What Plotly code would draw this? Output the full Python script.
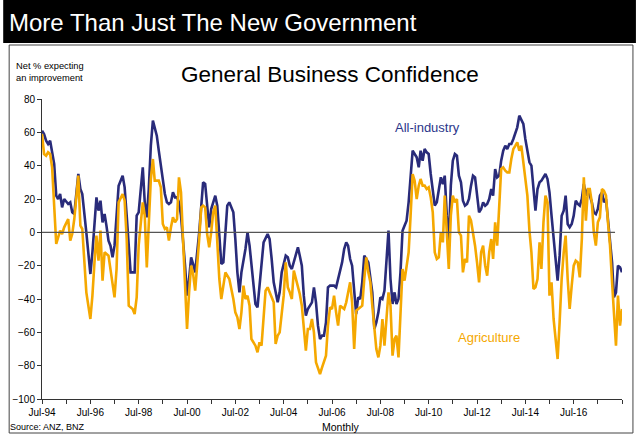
import pandas as pd
import plotly.graph_objects as go

# Months since Jul-1994 and net % values
all_month = [0,1,2,3,4,5,6,7,8,9,10,11,13,14,15,16,17,18,19,20,22,24,25,27,28,29,30,31,32,33,34,35,36,38,40,41,42,43,44,46,47,48,50,51,52,53,54,55,57,58,60,61,62,63,64,65,66,67,68,69,71,72,73,74,75,76,78,79,80,81,82,83,84,86,87,88,89,90,91,92,93,95,96,97,98,99,101,102,103,104,105,106,107,108,109,110,112,113,114,115,117,118,119,120,121,122,123,124,125,127,128,129,130,131,132,134,135,136,137,138,139,140,141,142,143,145,146,147,149,150,151,152,153,154,156,157,158,159,160,162,163,164,165,166,167,168,169,170,172,173,174,175,176,177,178,179,180,181,182,183,184,185,186,187,188,189,190,191,192,193,194,195,196,197,198,199,200,201,202,203,204,205,206,207,208,209,210,211,212,213,214,215,216,217,218,219,220,221,222,223,224,225,226,227,228,229,230,231,232,233,234,235,236,237,238,239,240,241,242,243,244,245,246,247,248,249,250,251,252,253,254,255,256,257,258,259,260,261,262,263,264,265,266,267,268,269,270,271,272,273,274,275,276,277,278,279,280,281,282,283,284,285,286,287,288]
all_value = [61,59,55,53,55,49,41,22,20,23,15,20,17,18,12,11,24,35,26,23,0,-25,-12,21,13,19,6,11,4,-5,-8,-15,-8,28,34,27,10,-12,-24,-24,10,12,39,18,9,26,52,67,58,49,30,23,18,17,18,24,21,21,18,10,-20,-38,-28,-15,-19,-24,0,18,30,29,16,3,14,22,16,-4,-19,-18,0,16,18,12,-4,-24,-36,-24,-10,0,-8,-20,-33,-43,-45,-32,-16,-6,-1,-4,-16,-30,-42,-36,-24,-19,-14,-15,-20,-22,-18,-9,-14,-20,-38,-50,-46,-42,-33,-42,-56,-64,-62,-62,-54,-33,-32,-32,-33,-28,-18,-10,-6,-8,-16,-20,-49,-39,-40,-30,-14,-18,-26,-36,-58,-54,-48,-39,-40,-35,1,-28,-43,-36,-43,-40,-24,1,4,7,18,34,49,47,45,39,49,43,50,48,47,35,24,16,18,26,33,29,34,10,-6,28,43,47,46,34,30,19,16,17,20,28,34,33,22,12,14,18,16,17,20,26,22,38,33,34,43,49,52,50,53,53,56,60,63,70,67,65,56,50,42,40,28,13,26,30,31,33,35,32,24,10,-4,-18,-29,-14,10,13,22,5,3,5,10,19,17,16,20,29,22,26,22,18,12,11,14,22,24,18,20,6,-6,-18,-39,-36,-20,-21,-24]

agri_month = [0,1,2,3,4,5,7,8,9,10,11,13,14,15,16,18,19,20,21,22,24,25,26,27,28,29,30,31,33,34,36,37,38,40,41,42,43,45,46,47,48,50,51,52,53,54,55,56,58,59,60,61,62,63,64,65,66,67,68,69,70,71,72,73,74,75,76,78,79,80,81,82,83,84,85,86,87,88,89,90,91,93,94,95,96,97,98,99,100,101,102,103,104,105,106,107,108,109,110,111,112,113,115,116,117,118,119,120,121,122,123,124,125,127,128,129,130,131,132,133,134,135,136,137,138,139,141,142,143,144,145,146,147,148,150,151,152,153,154,155,156,157,159,160,161,162,163,164,165,166,167,168,169,170,171,172,173,174,175,176,177,178,179,180,181,182,183,184,185,186,187,188,189,190,191,192,193,194,195,196,197,198,199,200,201,202,203,204,205,206,207,208,209,210,211,212,213,214,215,216,217,218,219,220,221,222,223,224,225,226,227,228,229,230,231,232,233,234,235,236,237,238,239,240,241,242,243,244,245,246,247,248,249,250,251,252,253,254,255,256,257,258,259,260,261,262,263,264,265,266,267,268,269,270,271,272,273,274,275,276,277,278,279,280,281,282,283,284,285,286,287,288]
agri_value = [59,47,46,48,47,39,-7,-3,1,-1,3,8,-5,-1,8,34,4,2,-18,-36,-52,-38,-18,-2,-17,1,-29,-12,-14,-22,-39,-22,18,23,19,-4,-44,-46,-49,-39,-8,18,10,-21,10,32,44,31,31,27,5,2,3,-5,3,9,6,8,33,24,-4,-30,-58,-36,-20,-25,-35,-4,15,16,15,-1,-9,0,12,16,-4,-28,-40,-33,-24,-28,-33,-40,-48,-51,-58,-48,-32,-40,-38,-44,-64,-66,-68,-72,-66,-68,-52,-35,-33,-36,-42,-67,-62,-60,-50,-38,-18,-33,-36,-40,-23,-32,-37,-44,-56,-71,-58,-58,-52,-60,-78,-82,-85,-81,-74,-56,-45,-46,-38,-48,-56,-44,-46,-42,-36,-30,-42,-70,-47,-46,-44,-28,-15,-24,-30,-44,-60,-70,-75,-68,-52,-68,-52,-36,-44,-74,-64,-62,-75,-52,-22,-29,-19,-12,10,35,31,20,28,32,28,28,26,27,21,12,-12,-16,-15,0,-6,22,0,-22,10,22,18,20,0,-2,-24,-16,-18,10,7,0,-8,-18,-30,-12,-8,-20,-26,-12,-4,-16,6,-8,12,38,39,37,36,36,44,50,52,54,49,52,42,32,22,1,-12,-34,-33,-28,-6,-22,6,22,18,-38,-30,-52,-64,-76,-54,-28,-12,-2,-28,-46,-32,-20,-17,-18,-27,-4,33,7,26,26,18,0,-8,6,9,26,25,22,6,-8,-30,-52,-68,-38,-56,-46]

tick_years = list(range(1994, 2019))
y_ticks = list(range(-100, 81, 20))

start = pd.Timestamp(1994, 7, 1)
def to_dates(months):
    return [start + pd.DateOffset(months=m) for m in months]

NAVY = "#292B7A"
ORANGE = "#F5A800"
FONT = "Arial, Liberation Sans, sans-serif"

fig = go.Figure()
fig.add_trace(go.Scatter(x=to_dates(all_month), y=all_value, mode="lines",
                         line=dict(color=NAVY, width=2.6), name="All-industry"))
fig.add_trace(go.Scatter(x=to_dates(agri_month), y=agri_value, mode="lines",
                         line=dict(color=ORANGE, width=2.6), name="Agriculture"))

L, R, T, B = 39, 14, 99, 35
W, H = 636, 434
pw, ph = W - L - R, H - T - B
def px(x):
    return (x - L) / pw
def py(y):
    return (H - B - y) / ph

tickvals = [pd.Timestamp(y, 7, 1) for y in tick_years]
ticktext = [("Jul-%02d" % (y % 100)) if (y % 2 == 0 and y <= 2016) else "" for y in tick_years]

fig.update_layout(
    width=W, height=H, margin=dict(l=L, r=R, t=T, b=B),
    paper_bgcolor="white", plot_bgcolor="white",
    showlegend=False,
    font=dict(family=FONT, color="black", size=10),
    xaxis=dict(type="date", range=[pd.Timestamp(1994, 7, 1), pd.Timestamp(2018, 7, 1)],
               tickmode="array", tickvals=tickvals, ticktext=ticktext,
               ticks="outside", ticklen=4, tickcolor="#333", showline=True,
               linecolor="#333", linewidth=1, showgrid=False, zeroline=False,
               tickfont=dict(size=10, family=FONT)),
    yaxis=dict(range=[-100, 80], tickmode="array", tickvals=y_ticks,
               ticks="outside", ticklen=4, tickcolor="#333", showline=True,
               linecolor="#333", linewidth=1, showgrid=False, zeroline=False,
               tickfont=dict(size=10, family=FONT)),
    shapes=[
        dict(type="rect", xref="paper", yref="paper", x0=px(0), x1=px(W), y0=py(43), y1=py(0),
             fillcolor="black", line=dict(width=0), layer="below"),
        dict(type="rect", xref="paper", yref="paper", x0=px(6), x1=px(633), y0=py(433), y1=py(45),
             fillcolor="rgba(0,0,0,0)", line=dict(color="#444", width=1)),
        dict(type="line", xref="paper", yref="y", x0=0, x1=px(615), y0=0, y1=0,
             line=dict(color="#555", width=1.2), layer="above"),
    ],
)

ann = [
    dict(text="More Than Just The New Government", x=px(4), y=py(22), xanchor="left", yanchor="middle",
         font=dict(size=24, color="white")),
    dict(text="General Business Confidence", x=px(328), y=py(75), xanchor="center", yanchor="middle",
         font=dict(size=22.5, color="black")),
    dict(text="Net % expecting<br>an improvement", x=px(11), y=py(59), xanchor="left", yanchor="top",
         align="left", font=dict(size=9.3, color="black")),
    dict(text="All-industry", x=px(392), y=py(127), xanchor="left", yanchor="middle",
         font=dict(size=13, color="#2B358A")),
    dict(text="Agriculture", x=px(455), y=py(337), xanchor="left", yanchor="middle",
         font=dict(size=13, color=ORANGE)),
    dict(text="Source: ANZ, BNZ", x=px(5), y=py(427), xanchor="left", yanchor="middle",
         font=dict(size=9, color="black")),
    dict(text="Monthly", x=px(340), y=py(427), xanchor="center", yanchor="middle",
         font=dict(size=10.5, color="black")),
]
for a in ann:
    a.update(xref="paper", yref="paper", showarrow=False)
fig.update_layout(annotations=ann)

fig.write_html("out.html")
